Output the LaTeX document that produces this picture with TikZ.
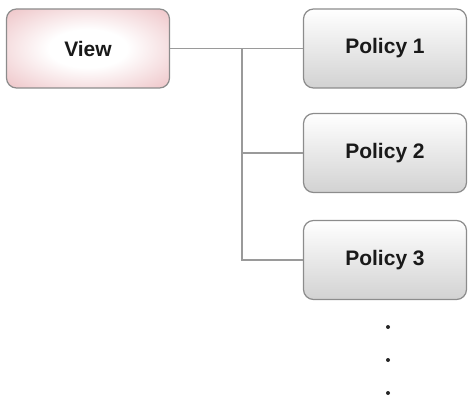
\documentclass[tikz,border=0pt]{standalone}
\usepackage{fontspec}
\setmainfont{Liberation Sans}
\usetikzlibrary{shadings}
\definecolor{edgegray}{HTML}{8C8C8C}
\definecolor{linegray}{HTML}{9A9A9A}
\definecolor{pinklight}{HTML}{EFC8CB}
\definecolor{pinkdark}{HTML}{E3ABB1}
\definecolor{polgray}{HTML}{D2D2D2}
\pgfdeclareradialshading{viewshade}{\pgfpoint{0bp}{0bp}}{%
  color(0bp)=(white); color(12bp)=(white); color(34bp)=(pinklight);
  color(52bp)=(pinkdark); color(80bp)=(pinkdark)}
\tikzset{
  boxbase/.style={draw=edgegray, line width=1.2pt, rounded corners=10pt,
    minimum width=163pt, minimum height=79pt, inner sep=0pt,
    font=\fontsize{21}{24}\selectfont\bfseries, text=black!90},
  viewbox/.style={boxbase, shading=viewshade},
  polbox/.style={boxbase, top color=white, bottom color=polgray},
  conn/.style={draw=linegray, line width=1.5pt},
  dotmark/.style={circle, fill=black!85, inner sep=0pt, minimum size=4pt}
}
\begin{document}
\begin{tikzpicture}[x=1pt,y=-1pt]
\useasboundingbox (0,0) rectangle (469,401);
\node[viewbox] (view) at (88,48.5) {View};
\node[polbox] (p1) at (385,48.5) {Policy 1};
\node[polbox] (p2) at (385,153) {Policy 2};
\node[polbox] (p3) at (385,260) {Policy 3};
\coordinate (j) at (242,48.5);
\draw[conn] (view.east) -- (p1.west);
\draw[conn] (j) |- (p2.west);
\draw[conn] (j) |- (p3.west);
\node[dotmark] (d1) at (388,327) {};
\node[dotmark] (d2) at (388,360) {};
\node[dotmark] (d3) at (388,393) {};
\end{tikzpicture}
\end{document}
